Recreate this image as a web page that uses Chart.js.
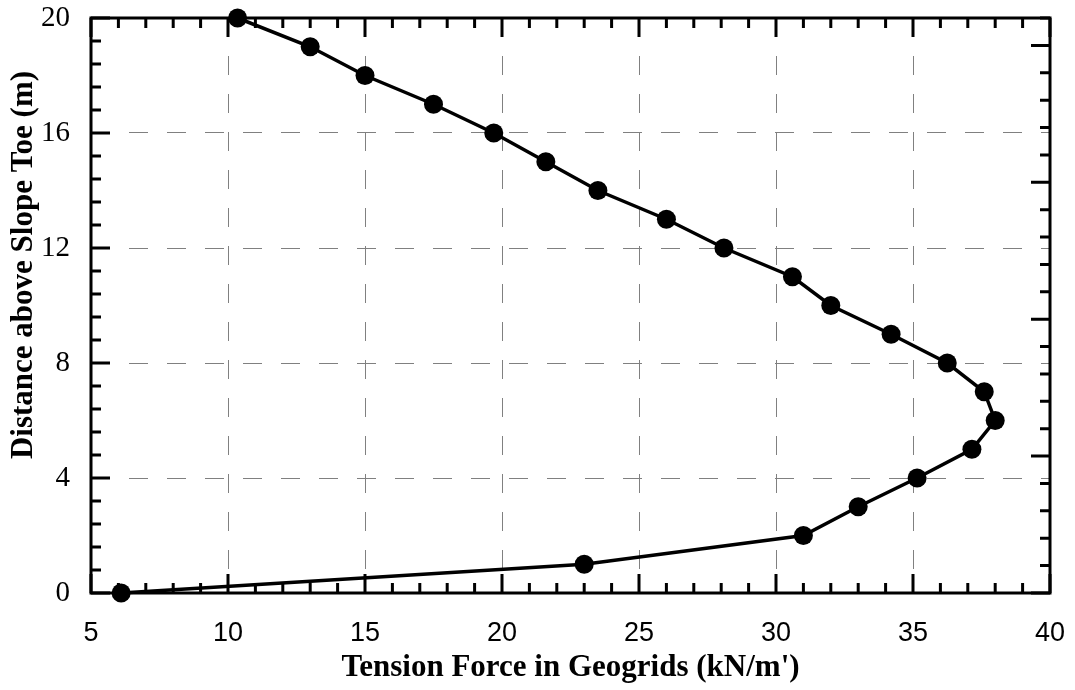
<!DOCTYPE html>
<html lang="en">

<head>
    <meta charset="UTF-8">
    <script src="https://cdn.jsdelivr.net/npm/chart.js"></script>
    <title>Tension Force in Geogrids</title>
    <style>
        body { margin: 0; background: #fff; }
        .grafico { width: 1075px; height: 690px; }
    </style>
</head>

<body>
    <div class="grafico">
        <canvas id="graficoTensao"></canvas>
    </div>
</body>

</html>

<script>
    // distance above slope toe (m) and tension force (kN/m')
    var distancia = [0, 1, 2, 3, 4, 5, 6, 7, 8, 9, 10, 11, 12, 13, 14, 15, 16, 17, 18, 19, 20]
    var tensao = [6.1, 23.0, 31.0, 33.0, 35.15, 37.15, 38.0, 37.6, 36.25, 34.2, 32.0, 30.6, 28.1, 26.0, 23.5, 21.6, 19.7, 17.5, 15.0, 13.0, 10.35]

    var eixoX = [5, 40, 5]   // min, max, step
    var eixoY = [0, 20, 4]

    // frame with inward ticks on all four sides
    const molduraEixos = {
        id: 'molduraEixos',
        beforeDatasetsDraw(chart) {
            const { ctx, chartArea: a, scales: { x, y, y2 } } = chart;
            ctx.save();
            ctx.strokeStyle = '#000';
            ctx.lineWidth = 3;
            ctx.beginPath();
            for (let v = eixoX[0]; v <= eixoX[1]; v++) {
                const px = x.getPixelForValue(v);
                const len = v % 5 === 0 ? 19 : 10;
                ctx.moveTo(px, a.bottom); ctx.lineTo(px, a.bottom - len);
                ctx.moveTo(px, a.top); ctx.lineTo(px, a.top + len);
            }
            for (let k = 0; k <= 25; k++) {
                const py = y.getPixelForValue(k * 0.8);
                const len = k % 5 === 0 ? 19 : 10;
                ctx.moveTo(a.left, py); ctx.lineTo(a.left + len, py);
            }
            for (let v = 0; v <= 21; v++) {
                const py = y2.getPixelForValue(v);
                const len = v % 5 === 0 ? 19 : 10;
                ctx.moveTo(a.right, py); ctx.lineTo(a.right - len, py);
            }
            ctx.stroke();
            ctx.strokeRect(a.left, a.top, a.right - a.left, a.bottom - a.top);

            ctx.fillStyle = '#000';
            ctx.font = 'bold 31px "Liberation Serif"';
            ctx.textAlign = 'center';
            ctx.textBaseline = 'middle';
            ctx.translate(24, 265);
            ctx.rotate(-Math.PI / 2);
            ctx.fillText('Distance above Slope Toe (m)', 0, 0);
            ctx.restore();
        }
    };

    var graficoTensao = new Chart(document.getElementById('graficoTensao').getContext('2d'), {
        type: 'scatter',
        data: {
            datasets: [{
                label: 'Tension',
                data: distancia.map((d, i) => ({ x: tensao[i], y: d })),
                showLine: true,
                borderColor: '#000',
                borderWidth: 3.5,
                pointRadius: 9.5,
                pointBackgroundColor: '#000',
                pointBorderWidth: 0,
                pointHoverRadius: 9.5,
                clip: false
            }]
        },
        options: {
            responsive: true,
            maintainAspectRatio: false,
            animation: false,
            layout: {
                padding: { top: 18, right: 25, left: 0, bottom: 0 }
            },
            plugins: {
                legend: { display: false },
                tooltip: { enabled: false }
            },
            scales: {
                x: {
                    type: 'linear',
                    min: eixoX[0],
                    max: eixoX[1],
                    ticks: {
                        stepSize: eixoX[2],
                        color: '#000',
                        padding: 24,
                        font: { family: 'Liberation Sans', size: 27 }
                    },
                    grid: { color: '#808080', lineWidth: 1, drawTicks: false },
                    border: { display: false, dash: [19, 19] },
                    title: {
                        display: true,
                        text: "Tension Force in Geogrids (kN/m')",
                        color: '#000',
                        padding: { top: 0, bottom: 3 },
                        font: { family: 'Liberation Serif', size: 31, weight: 'bold' }
                    },
                    afterFit: (s) => {
                        s.height = 97
                        s.paddingLeft = 0
                        s.paddingRight = 0
                    }
                },
                y: {
                    type: 'linear',
                    min: eixoY[0],
                    max: eixoY[1],
                    ticks: {
                        stepSize: eixoY[2],
                        color: '#000',
                        padding: 21,
                        font: { family: 'Liberation Serif', size: 29 }
                    },
                    grid: { color: '#808080', lineWidth: 1, drawTicks: false },
                    border: { display: false, dash: [19, 19] },
                    afterFit: (s) => {
                        s.width = 91
                        s.paddingTop = 0
                        s.paddingBottom = 0
                    }
                },
                y2: {
                    type: 'linear',
                    position: 'right',
                    min: 0,
                    max: 21,
                    display: false,
                    grid: { drawOnChartArea: false }
                }
            }
        },
        plugins: [molduraEixos]
    });
</script>
